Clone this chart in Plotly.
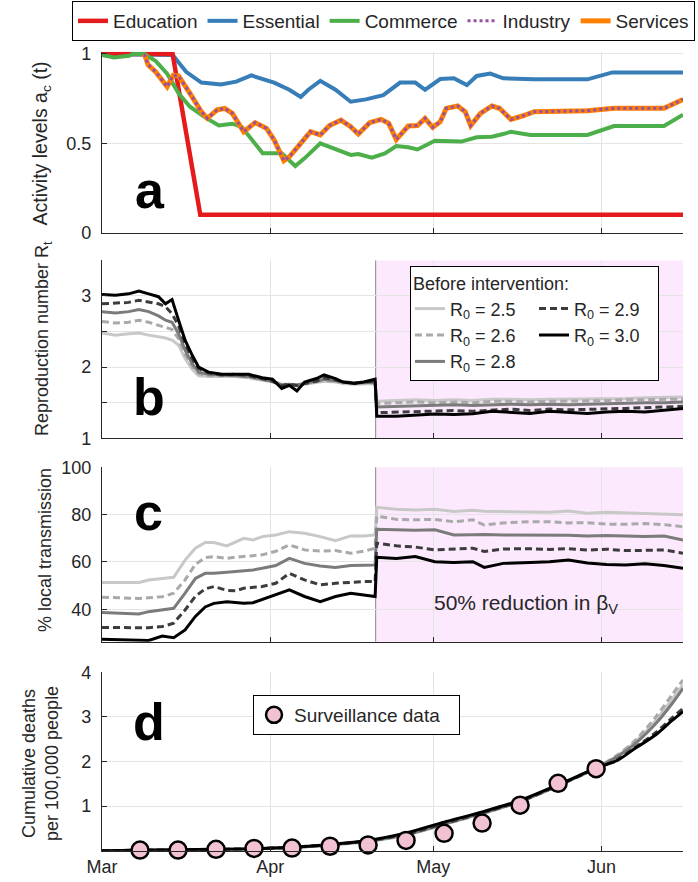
import pandas as pd
import plotly.graph_objects as go

# ---------------- data (days since 1 March 2020) ----------------
BASE_DATE = "2020-03-01"
END_DAY = 107
INTERVENTION_DAY = 50.4

# Panel a: activity levels
edu_days = [0, 13.0, 18.1, 107]
edu_vals = [1.0, 1.0, 0.1, 0.1]

ess_days = [0, 13.0, 15.5, 18.3, 21.9, 24.7, 27.5, 31.7, 34.5, 36.6, 38.0, 40.2, 43.0, 45.8,
            48.6, 51.8, 54.9, 57.7, 59.5, 62.3, 64.8, 67.2, 69.0, 71.5, 73.9, 79.6, 89.4, 94.0, 107]
ess_vals = [1.0, 0.995, 0.90, 0.84, 0.83, 0.845, 0.88, 0.84, 0.80, 0.76, 0.80, 0.85, 0.80, 0.733,
            0.746, 0.77, 0.84, 0.84, 0.80, 0.86, 0.864, 0.826, 0.877, 0.89, 0.864, 0.858, 0.858, 0.897, 0.897]

com_days = [0, 2.2, 5.0, 5.7, 7.8, 9.9, 12.0, 14.1, 16.2, 19.0, 21.5, 24.0, 25.7, 27.5, 29.6, 31.4,
            33.1, 35.6, 37.3, 40.2, 43.0, 45.8, 47.2, 49.7, 52.1, 54.2, 56.4, 58.1, 61.3, 66.2, 69.0,
            71.8, 73.9, 75.3, 78.9, 89.4, 94.3, 103.5, 107]
com_vals = [0.994, 0.98, 0.99, 1.0, 1.0, 0.96, 0.89, 0.78, 0.705, 0.645, 0.60, 0.61, 0.593, 0.52,
            0.444, 0.444, 0.444, 0.373, 0.416, 0.50, 0.466, 0.435, 0.44, 0.42, 0.444, 0.485, 0.478,
            0.466, 0.515, 0.51, 0.534, 0.537, 0.552, 0.565, 0.547, 0.547, 0.597, 0.597, 0.66]

svc_days = [7.8, 8.5, 9.9, 12.0, 13.1, 14.1, 16.2, 18.3, 19.4, 21.2, 22.6, 24.0, 26.1, 28.2, 30.3,
            31.7, 33.5, 34.5, 36.6, 38.4, 40.2, 41.9, 44.0, 45.8, 47.2, 49.3, 51.4, 52.8, 54.2, 56.4,
            58.1, 59.5, 60.9, 62.3, 63.4, 65.5, 66.9, 67.9, 69.7, 71.8, 73.2, 75.3, 77.4, 79.6, 89.4,
            94.3, 103.5, 107]
svc_vals = [1.0, 0.94, 0.90, 0.817, 0.88, 0.877, 0.78, 0.677, 0.64, 0.687, 0.696, 0.668, 0.565,
            0.616, 0.584, 0.519, 0.403, 0.425, 0.50, 0.565, 0.547, 0.60, 0.63, 0.593, 0.552, 0.616,
            0.634, 0.612, 0.522, 0.597, 0.60, 0.64, 0.59, 0.621, 0.696, 0.709, 0.677, 0.60, 0.668,
            0.709, 0.696, 0.634, 0.653, 0.677, 0.683, 0.696, 0.696, 0.746]
ind_days = list(svc_days)
ind_vals = [1.0, 0.94, 0.90, 0.817, 0.88, 0.877, 0.78, 0.677, 0.64, 0.687, 0.696, 0.668, 0.565,
            0.616, 0.584, 0.519, 0.403, 0.425, 0.50, 0.565, 0.547, 0.60, 0.63, 0.593, 0.552, 0.616,
            0.634, 0.612, 0.522, 0.597, 0.60, 0.64, 0.59, 0.621, 0.696, 0.709, 0.677, 0.60, 0.668,
            0.709, 0.696, 0.634, 0.653, 0.677, 0.683, 0.696, 0.696, 0.746]

# Panel b: reproduction number
rt_days = [0, 2.5, 4.9, 6.8, 8.6, 10.4, 11.7, 12.9, 14.1, 15.3, 16.6, 17.8, 19.6, 22.1, 24.6, 27,
           29.5, 31.4, 33.1, 34.5, 35.9, 37.3, 39.5, 40.9, 43, 44.4, 46.5, 48.2, 50.3,
           50.6, 54.2, 57.7, 61.3, 64.8, 68.3, 71.8, 75.3, 78.8, 82.4, 85.9, 89.4, 92.9, 96.4, 100, 103.5, 107]
rt_r25 = [2.48, 2.45, 2.47, 2.48, 2.45, 2.43, 2.41, 2.38, 2.31, 2.12, 1.97, 1.88, 1.87, 1.87, 1.87,
          1.85, 1.82, 1.79, 1.76, 1.75, 1.75, 1.76, 1.78, 1.80, 1.79, 1.77, 1.76, 1.76, 1.77,
          1.52, 1.53, 1.54, 1.53, 1.54, 1.53, 1.55, 1.55, 1.54, 1.55, 1.55, 1.56, 1.56, 1.56, 1.57, 1.57, 1.58]
rt_r26 = [2.64, 2.62, 2.63, 2.66, 2.63, 2.59, 2.56, 2.53, 2.40, 2.18, 2.01, 1.91, 1.88, 1.88, 1.88,
          1.86, 1.82, 1.80, 1.76, 1.76, 1.75, 1.77, 1.79, 1.81, 1.80, 1.78, 1.77, 1.77, 1.78,
          1.49, 1.50, 1.51, 1.50, 1.51, 1.50, 1.52, 1.52, 1.51, 1.52, 1.52, 1.53, 1.53, 1.54, 1.54, 1.55, 1.55]
rt_r28 = [2.78, 2.76, 2.78, 2.81, 2.78, 2.72, 2.66, 2.63, 2.47, 2.24, 2.05, 1.93, 1.90, 1.89, 1.89,
          1.87, 1.83, 1.80, 1.75, 1.76, 1.75, 1.77, 1.80, 1.83, 1.81, 1.79, 1.78, 1.78, 1.79,
          1.44, 1.45, 1.46, 1.46, 1.47, 1.46, 1.47, 1.48, 1.47, 1.48, 1.47, 1.48, 1.49, 1.49, 1.50, 1.50, 1.51]
rt_r29 = [2.89, 2.90, 2.91, 2.94, 2.92, 2.89, 2.85, 2.75, 2.58, 2.33, 2.12, 1.98, 1.92, 1.89, 1.90,
          1.88, 1.84, 1.80, 1.74, 1.76, 1.74, 1.77, 1.80, 1.85, 1.82, 1.79, 1.78, 1.79, 1.80,
          1.36, 1.37, 1.38, 1.38, 1.39, 1.38, 1.40, 1.41, 1.39, 1.41, 1.40, 1.41, 1.42, 1.42, 1.43, 1.44, 1.45]
rt_r30 = [3.02, 3.01, 3.03, 3.07, 3.03, 2.99, 2.89, 2.95, 2.66, 2.38, 2.17, 2.00, 1.93, 1.90, 1.90,
          1.90, 1.85, 1.83, 1.70, 1.745, 1.665, 1.79, 1.84, 1.89, 1.84, 1.79, 1.77, 1.79, 1.83,
          1.31, 1.31, 1.33, 1.34, 1.335, 1.345, 1.38, 1.37, 1.35, 1.38, 1.36, 1.35, 1.37, 1.38, 1.37, 1.40, 1.42]

# Panel c: % local transmission
lt_days = [0, 3.7, 6.8, 8.6, 11.1, 13.2, 15.3, 17.2, 19.0, 20.6, 23.0, 24.6, 26.1, 27.8, 29.5, 32.0,
           34.5, 37.3, 40.2, 43.0, 45.8, 48.2, 50.3,
           50.6, 54.2, 57.7, 61.3, 64.8, 68.3, 70.4, 73.9, 78.8, 82.4, 85.9, 89.4, 92.9, 96.4, 100, 103.5, 107]
lt_r25 = [51.3, 51.3, 51.3, 52.4, 53.1, 53.5, 60.8, 65.8, 68.2, 68.2, 66.8, 68.6, 70.0, 69.3, 70.7,
          71.4, 72.8, 72.1, 70.7, 69.0, 71.0, 71.0, 71.4,
          83.1, 82.3, 82.0, 82.3, 81.3, 81.8, 81.4, 81.3, 81.3, 81.0, 81.5, 80.6, 81.0, 80.8, 80.6, 80.4, 79.9]
lt_r26 = [45.1, 44.8, 44.6, 44.9, 45.3, 46.8, 52.4, 59.0, 61.8, 62.3, 61.5, 62.0, 62.3, 62.6, 63.0,
          64.5, 67.2, 65.1, 64.6, 64.8, 63.7, 64.5, 65.8,
          79.4, 78.0, 77.8, 78.0, 77.0, 77.8, 75.6, 76.5, 77.0, 77.0, 76.5, 76.6, 76.0, 75.9, 76.2, 75.8, 74.9]
lt_r28 = [38.6, 38.3, 38.0, 39.0, 39.6, 40.4, 46.8, 53.0, 55.2, 55.2, 55.6, 55.9, 56.3, 56.6, 57.3,
          58.5, 61.5, 59.4, 58.3, 57.7, 58.5, 58.7, 58.7,
          73.8, 73.5, 73.4, 73.6, 71.4, 71.5, 71.6, 71.4, 71.4, 71.6, 71.3, 71.0, 71.2, 71.0, 70.8, 71.0, 69.3]
lt_r29 = [32.3, 32.2, 32.0, 32.2, 32.7, 34.1, 39.7, 45.5, 48.6, 49.6, 48.0, 47.8, 48.9, 49.3, 49.6,
          51.0, 55.2, 52.4, 50.3, 51.0, 51.4, 51.7, 51.7,
          67.9, 66.8, 66.3, 65.1, 65.6, 65.8, 64.4, 65.5, 65.6, 65.3, 65.6, 65.0, 65.4, 64.8, 64.9, 65.1, 63.7]
lt_r30 = [27.3, 27.0, 26.9, 26.8, 28.7, 28.0, 31.3, 37.0, 41.0, 42.5, 43.2, 42.8, 42.6, 42.8, 44.2,
          46.0, 48.2, 45.4, 43.2, 45.4, 46.8, 46.0, 45.4,
          62.0, 61.5, 62.3, 60.1, 59.8, 60.1, 57.7, 59.4, 59.8, 60.1, 60.8, 59.6, 58.9, 58.7, 59.2, 58.5, 57.3]

# Panel d: cumulative deaths per 100,000
cd_days = [0, 7, 14, 21, 28, 35, 42, 49, 56, 63, 70, 77, 84, 91, 95, 98, 102, 105, 107]
cd_r25 = [0, 0.01, 0.02, 0.03, 0.042, 0.072, 0.125, 0.205, 0.35, 0.585, 0.83, 1.10, 1.46, 1.86, 2.13, 2.42, 2.92, 3.40, 3.72]
cd_r26 = [0, 0.01, 0.02, 0.03, 0.042, 0.073, 0.128, 0.21, 0.355, 0.59, 0.83, 1.10, 1.46, 1.86, 2.15, 2.45, 3.00, 3.50, 3.83]
cd_r28 = [0, 0.01, 0.02, 0.03, 0.043, 0.075, 0.13, 0.215, 0.36, 0.60, 0.84, 1.10, 1.46, 1.85, 2.12, 2.38, 2.85, 3.30, 3.64]
cd_r29 = [0, 0.01, 0.02, 0.03, 0.044, 0.078, 0.135, 0.22, 0.37, 0.61, 0.85, 1.11, 1.46, 1.84, 2.05, 2.30, 2.65, 2.98, 3.19]
cd_r30 = [0, 0.01, 0.02, 0.03, 0.045, 0.08, 0.14, 0.23, 0.40, 0.64, 0.87, 1.13, 1.48, 1.85, 2.03, 2.28, 2.60, 2.92, 3.12]

surv_days = [7, 14, 21, 28, 35, 42, 49, 56, 63, 70, 77, 84, 91]
surv_vals = [0.015, 0.015, 0.03, 0.05, 0.06, 0.10, 0.13, 0.23, 0.39, 0.62, 1.02, 1.51, 1.84]

month_ticks = ["2020-03-01", "2020-04-01", "2020-05-01", "2020-06-01"]
month_labels = ["Mar", "Apr", "May", "Jun"]

# ---------------- helpers ----------------
BASE = pd.Timestamp(BASE_DATE)


def to_dates(days):
    return [BASE + pd.Timedelta(days=float(d)) for d in days]


END = BASE + pd.Timedelta(days=END_DAY)
INTERVENTION = BASE + pd.Timedelta(days=INTERVENTION_DAY)

W, H = 698, 882
ML, MR, MT, MB = 102, 15, 46, 0
PW, PH = W - ML - MR, H - MT - MB


def fy(px):
    return (H - MB - px) / PH


def fx(px):
    return (px - ML) / PW


FONT = "Liberation Sans, Arial, sans-serif"
TXT = "#262626"
GRID = "#e4e4e4"

fig = go.Figure()

# ---- panel a ----
fig.add_trace(go.Scatter(x=to_dates(ess_days), y=ess_vals, name="Essential", mode="lines",
                         line=dict(color="#377eb8", width=4), legend="legend", legendrank=2,
                         xaxis="x", yaxis="y"))
fig.add_trace(go.Scatter(x=to_dates(edu_days), y=edu_vals, name="Education", mode="lines",
                         line=dict(color="#e41a1c", width=4.5), legend="legend", legendrank=1,
                         xaxis="x", yaxis="y"))
fig.add_trace(go.Scatter(x=to_dates(com_days), y=com_vals, name="Commerce", mode="lines",
                         line=dict(color="#4daf4a", width=4), legend="legend", legendrank=3,
                         xaxis="x", yaxis="y"))
fig.add_trace(go.Scatter(x=to_dates(svc_days), y=svc_vals, name="Services", mode="lines",
                         line=dict(color="#ff7f00", width=5), legend="legend", legendrank=5,
                         xaxis="x", yaxis="y"))
fig.add_trace(go.Scatter(x=to_dates(ind_days), y=ind_vals, name="Industry", mode="lines",
                         line=dict(color="#984ea3", width=3, dash="dot"), legend="legend", legendrank=4,
                         xaxis="x", yaxis="y"))

# ---- scenario styles ----
scen = [
    ("2.5", "#c8c8c8", "solid", rt_r25, lt_r25, cd_r25, "g1"),
    ("2.6", "#a9a9a9", "7px,4px", rt_r26, lt_r26, cd_r26, "g1"),
    ("2.8", "#7b7b7b", "solid", rt_r28, lt_r28, cd_r28, "g1"),
    ("2.9", "#3c3c3c", "7px,4px", rt_r29, lt_r29, cd_r29, "g2"),
    ("3.0", "#000000", "solid", rt_r30, lt_r30, cd_r30, "g2"),
]
for lab, col, dash, rt, lt, cd, grp in scen:
    fig.add_trace(go.Scatter(x=to_dates(rt_days), y=rt, name="R<sub>0</sub> = " + lab, mode="lines",
                             line=dict(color=col, width=3, dash=dash), legend="legend2",
                             legendgroup=grp, xaxis="x2", yaxis="y2"))
for lab, col, dash, rt, lt, cd, grp in scen:
    fig.add_trace(go.Scatter(x=to_dates(lt_days), y=lt, mode="lines", showlegend=False,
                             line=dict(color=col, width=3, dash=dash), xaxis="x3", yaxis="y3"))
for lab, col, dash, rt, lt, cd, grp in scen:
    fig.add_trace(go.Scatter(x=to_dates(cd_days), y=cd, mode="lines", showlegend=False,
                             line=dict(color=col, width=3, dash=dash, shape="spline", smoothing=0.8),
                             xaxis="x4", yaxis="y4"))

fig.add_trace(go.Scatter(x=to_dates(surv_days), y=surv_vals, name="Surveillance data", mode="markers",
                         marker=dict(size=17, color="#f2c1d3", line=dict(color="#000000", width=2.5)),
                         cliponaxis=False, legend="legend3", xaxis="x4", yaxis="y4"))

# ---------------- axes ----------------
domains = {
    "a": [fy(232.7), fy(51.85)],
    "b": [fy(438.3), fy(260.4)],
    "c": [fy(641.7), fy(467.3)],
    "d": [fy(850.7), fy(672.3)],
}

TICKFONT = dict(size=18, color=TXT, family=FONT)
xcommon = dict(type="date", range=[BASE, END], tickvals=month_ticks, ticktext=month_labels,
               showgrid=True, gridcolor=GRID, gridwidth=1, showline=True, linecolor=TXT,
               linewidth=1.3, ticks="inside", ticklen=5, tickcolor=TXT, tickwidth=1.2,
               zeroline=False, domain=[0, 1], tickfont=TICKFONT)
ycommon = dict(showgrid=True, gridcolor=GRID, gridwidth=1, showline=True, linecolor=TXT,
               linewidth=1.3, ticks="inside", ticklen=5, tickcolor=TXT, tickwidth=1.2,
               zeroline=False, tickfont=TICKFONT, ticklabelstandoff=6)

fig.update_layout(
    xaxis=dict(**xcommon, anchor="y", showticklabels=False),
    xaxis2=dict(**xcommon, anchor="y2", matches="x", showticklabels=False),
    xaxis3=dict(**xcommon, anchor="y3", matches="x", showticklabels=False),
    xaxis4=dict(**xcommon, anchor="y4", matches="x", showticklabels=True),
    yaxis=dict(**ycommon, anchor="x", domain=domains["a"], range=[0, 1.012],
               tickvals=[0, 0.5, 1], ticktext=["0", "0.5", "1"]),
    yaxis2=dict(**ycommon, anchor="x2", domain=domains["b"], range=[1, 3.5],
                tickvals=[1, 2, 3], ticktext=["1", "2", "3"],
                minor=dict(tick0=1, dtick=0.5, showgrid=True, gridcolor=GRID, gridwidth=1,
                           ticks="inside", ticklen=5, tickcolor=TXT, tickwidth=1.2)),
    yaxis3=dict(**ycommon, anchor="x3", domain=domains["c"], range=[26.3, 100],
                tickvals=[40, 60, 80, 100], ticktext=["40", "60", "80", "100"]),
    yaxis4=dict(**ycommon, anchor="x4", domain=domains["d"], range=[0, 4],
                tickvals=[1, 2, 3, 4], ticktext=["1", "2", "3", "4"]),
)

# ---------------- intervention shading ----------------
shapes = []
for xa, ya in [("x2", "y2"), ("x3", "y3")]:
    shapes.append(dict(type="rect", xref=xa, yref=ya + " domain", x0=INTERVENTION, x1=END,
                       y0=0, y1=1, fillcolor="#fde9fd", line=dict(width=0), layer="below"))
    shapes.append(dict(type="line", xref=xa, yref=ya + " domain", x0=INTERVENTION, x1=INTERVENTION,
                       y0=0, y1=1, line=dict(color="#8a8a8a", width=1), layer="below"))

# ---------------- annotations ----------------
ann = []
for letter, cx, cy in [("a", 150, 190), ("b", 149, 397), ("c", 148, 512), ("d", 149, 722)]:
    ann.append(dict(text="<b>%s</b>" % letter, xref="paper", yref="paper", x=fx(cx), y=fy(cy),
                    xanchor="center", yanchor="middle", showarrow=False,
                    font=dict(size=52, color="#000000", family=FONT)))

for text, cx, cy, fs in [("Activity levels a<sub>c</sub> (t)", 41, 143.4, 19.5),
                         ("Reproduction number R<sub>t</sub>", 43, 339, 18),
                         ("% local transmission", 45, 550, 18),
                         ("Cumulative deaths<br>per 100,000 people", 40, 764, 18)]:
    ann.append(dict(text=text, xref="paper", yref="paper", x=fx(cx), y=fy(cy), textangle=-90,
                    xanchor="center", yanchor="middle", showarrow=False,
                    font=dict(size=fs, color=TXT, family=FONT)))

ann.append(dict(text="50% reduction in β<sub>V</sub>", xref="paper", yref="paper", x=fx(526),
                y=fy(604), xanchor="center", yanchor="middle", showarrow=False,
                font=dict(size=21, color=TXT, family=FONT)))

fig.update_layout(
    width=W, height=H,
    margin=dict(l=ML, r=MR, t=MT, b=MB, autoexpand=False),
    paper_bgcolor="white", plot_bgcolor="white",
    font=dict(family=FONT, color=TXT, size=18),
    shapes=shapes, annotations=ann,
    showlegend=True,
    legend=dict(orientation="h", x=fx(72), y=fy(41), xanchor="left", yanchor="bottom",
                bgcolor="white", bordercolor="#000000", borderwidth=1,
                font=dict(size=19, color=TXT, family=FONT),
                traceorder="normal", itemwidth=30, tracegroupgap=0),
    legend2=dict(orientation="h", x=fx(410), y=fy(266), xanchor="left", yanchor="top",
                 bgcolor="white", bordercolor="#000000", borderwidth=1,
                 font=dict(size=18, color=TXT, family=FONT),
                 traceorder="grouped", tracegroupgap=4, itemwidth=30, entrywidth=79,
                 title=dict(text="Before intervention:", side="top",
                            font=dict(size=18, color=TXT, family=FONT))),
    legend3=dict(orientation="h", x=fx(253), y=fy(695), xanchor="left", yanchor="top",
                 bgcolor="white", bordercolor="#000000", borderwidth=1, entrywidth=160,
                 itemwidth=30, font=dict(size=19, color=TXT, family=FONT)),
)

fig.write_html("out.html")
